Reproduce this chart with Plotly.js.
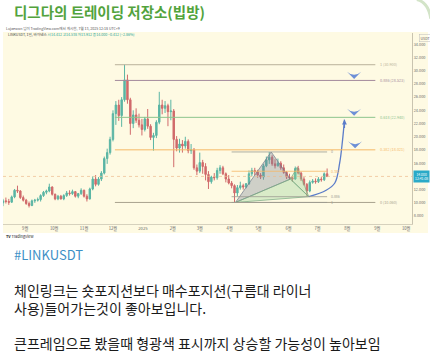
<!DOCTYPE html>
<html><head><meta charset="utf-8">
<script src="https://cdn.plot.ly/plotly-3.0.1.min.js"></script>
<style>html,body{margin:0;padding:0;background:#fff;}#c{width:430px;height:355px;}</style>
</head><body><div id="c"></div>
<script>
// ---- data (3-day candles, LINKUSDT) ----
const dates = ["2024-08-09","2024-08-12","2024-08-15","2024-08-18","2024-08-21","2024-08-24","2024-08-27","2024-08-30","2024-09-02","2024-09-05",
"2024-09-08","2024-09-11","2024-09-14","2024-09-17","2024-09-20","2024-09-23","2024-09-26","2024-09-29","2024-10-02","2024-10-05",
"2024-10-08","2024-10-11","2024-10-14","2024-10-17","2024-10-20","2024-10-23","2024-10-26","2024-10-29","2024-11-01","2024-11-04",
"2024-11-07","2024-11-10","2024-11-13","2024-11-16","2024-11-19","2024-11-22","2024-11-25","2024-11-28","2024-12-01","2024-12-04",
"2024-12-07","2024-12-10","2024-12-13","2024-12-16","2024-12-19","2024-12-22","2024-12-25","2024-12-28","2024-12-31","2025-01-03",
"2025-01-06","2025-01-09","2025-01-12","2025-01-15","2025-01-18","2025-01-21","2025-01-24","2025-01-27","2025-01-30","2025-02-02",
"2025-02-05","2025-02-08","2025-02-11","2025-02-14","2025-02-17","2025-02-20","2025-02-23","2025-02-26","2025-03-01","2025-03-04",
"2025-03-07","2025-03-10","2025-03-13","2025-03-16","2025-03-19","2025-03-22","2025-03-25","2025-03-28","2025-03-31","2025-04-03",
"2025-04-06","2025-04-09","2025-04-12","2025-04-15","2025-04-18","2025-04-21","2025-04-24","2025-04-27","2025-04-30","2025-05-03",
"2025-05-06","2025-05-09","2025-05-12","2025-05-15","2025-05-18","2025-05-21","2025-05-24","2025-05-27","2025-05-30","2025-06-02",
"2025-06-05","2025-06-08","2025-06-11","2025-06-14","2025-06-17","2025-06-20","2025-06-23","2025-06-26","2025-06-29","2025-07-02",
"2025-07-05","2025-07-08","2025-07-11"];
const open = [10.0,10.3,10.2,10.1,10.9,11.9,11.8,10.8,10.4,9.9, 9.6,10.3,10.4,10.5,11.1,11.6,11.8,12.4,11.3,10.6,
11.0,10.6,11.1,11.5,11.4,11.7,11.0,11.4,11.9,11.0, 10.6,12.1,13.6,12.8,13.6,14.5,16.7,17.6,19.6,23.5,
24.8,23.2,25.6,28.6,25.6,22.0,23.3,22.5,21.8,21.1, 22.7,21.6,19.9,20.2,22.2,24.8,24.3,24.7,23.8,23.9,
19.6,18.3,18.9,18.6,19.3,17.9,18.0,15.3,14.8,16.1, 15.5,14.3,13.2,13.9,13.8,14.9,15.3,14.4,13.6,13.0,
12.6,11.5,12.3,12.6,12.4,12.9,14.4,14.9,14.7,14.2, 13.9,15.6,16.5,16.9,15.9,15.6,16.0,15.3,14.6,13.9,
13.8,13.6,15.2,14.5,13.6,12.8,11.8,13.1,13.3,13.2, 13.6,13.5,14.4];
const high = [10.6,10.8,10.6,11.1,12.1,12.6,11.9,11.1,10.6,10.2, 10.5,10.6,10.8,11.3,11.8,12.0,12.9,12.5,11.4,11.2,
11.2,11.3,11.8,11.9,12.0,11.8,11.5,12.2,12.0,11.3, 12.3,14.0,14.2,13.9,14.8,17.0,18.2,20.0,24.0,25.4,
25.6,26.0,30.9,29.4,25.9,24.0,24.3,23.5,22.7,23.0, 24.2,21.9,20.6,22.5,26.8,25.6,25.4,25.0,25.6,24.2,
20.1,19.7,19.5,20.0,19.6,18.9,18.3,15.8,17.6,16.5, 16.0,14.8,14.1,14.5,15.3,15.7,15.6,14.6,14.2,13.3,
12.8,12.7,13.2,12.9,13.0,14.9,15.3,15.3,15.0,14.5, 15.9,17.0,17.7,17.2,16.6,16.7,16.3,15.8,14.8,14.4,
14.0,15.5,15.6,14.7,13.9,13.0,13.4,13.6,13.7,13.9, 13.9,14.6,15.2];
const low = [9.5,9.9,9.7,10.0,10.7,11.5,10.6,10.2,9.7,9.3, 9.5,10.0,10.2,10.2,10.9,11.3,11.6,11.1,10.4,10.4,
10.5,10.4,10.9,11.1,11.2,10.8,10.7,11.2,10.8,10.2, 10.5,11.9,12.5,12.6,13.3,14.3,15.9,17.3,19.3,21.8,
22.4,21.5,25.3,25.0,20.3,21.3,22.1,21.4,20.2,20.8, 21.2,19.5,17.9,19.8,21.9,23.4,23.6,21.6,22.5,15.4,
17.8,17.6,17.6,18.2,17.5,17.4,15.0,14.2,14.5,14.4, 13.4,12.1,12.9,13.4,13.5,14.4,14.2,13.1,12.8,12.2,
10.1,11.0,12.0,12.0,12.2,12.7,14.0,14.2,13.8,13.6, 13.5,15.4,15.9,15.6,15.2,15.5,15.0,14.4,13.6,13.5,
13.2,13.5,14.3,13.3,12.6,11.0,11.6,12.9,12.9,13.0, 13.2,13.3,13.9];
const close = [10.3,10.2,10.1,10.9,11.9,11.8,10.8,10.4,9.9,9.6, 10.3,10.4,10.5,11.1,11.6,11.8,12.4,11.3,10.6,11.0,
10.6,11.1,11.5,11.4,11.7,11.0,11.4,11.9,11.0,10.6, 12.1,13.6,12.8,13.6,14.5,16.7,17.6,19.6,23.5,24.8,
23.2,25.6,28.6,25.6,22.0,23.3,22.5,21.8,21.1,22.7, 21.6,19.9,20.2,22.2,24.8,24.3,24.7,23.8,23.9,19.6,
18.3,18.9,18.6,19.3,17.9,18.0,15.3,14.8,16.1,15.5, 14.3,13.2,13.9,13.8,14.9,15.3,14.4,13.6,13.0,12.6,
11.5,12.3,12.6,12.4,12.9,14.4,14.9,14.7,14.2,13.9, 15.6,16.5,16.9,15.9,15.6,16.0,15.3,14.6,13.9,13.8,
13.6,15.2,14.5,13.6,12.8,11.8,13.1,13.3,13.2,13.6, 13.5,14.4,14.0];

// axis ticks (14.000 is hidden behind the price box in the original)
const priceTicks = [8,10,12,16,18,20,22,24,26,28,30,32,34];
const priceTickText = ["8.000","10.000","12.000","16.000","18.000","20.000","22.000","24.000","26.000","28.000","30.000","32.000","34.000"];
const monthTicks = ["2024-09-01","2024-10-01","2024-11-01","2024-12-01","2025-01-01","2025-02-01","2025-03-01","2025-04-01","2025-05-01","2025-06-01","2025-07-01","2025-08-01","2025-09-01","2025-10-01"];
const monthText = ["9월","10월","11월","12월","2025","2월","3월","4월","5월","6월","7월","8월","9월","10월"];

// big fib retracement (peak -> low)
const fibLevels = ["1","0.886","0.618","0.382","0"];
const fibPrices = [30.900,28.523,22.940,18.021,10.060];
const fibColors = ["#b9b19a","#a48a9c","#8cc48c","#f5b866","#a8a28e"];
const fibStart = "2024-12-03", fibEnd = "2025-08-30", fibLabelX = "2025-09-02";
// small fib (A -> X)
const fib2Levels = ["0","0.382","0.886","1"];
const fib2Prices = [17.70,14.78,10.93,10.06];
const fib2Colors = ["#9c9a90","#f5b866","#9c9a90","#9c9a90"];
const fib2Start = "2025-04-03", fib2End = "2025-07-11", fib2LabelX = "2025-07-13";

// harmonic (bat) pattern points X A B C D
const patDates = ["2025-04-07","2025-05-14","2025-06-03","2025-06-10","2025-06-22"];
const patPrices = [10.06,17.70,13.60,15.40,10.93];

// projected path (blue arrow)
const projDates = ["2025-06-22","2025-07-10","2025-07-19","2025-07-24","2025-07-27","2025-07-29"];
const projPrices = [10.93,11.9,13.0,16.0,19.5,22.6];

// target marks
const markDates = ["2025-08-08","2025-08-08","2025-08-09"];
const markPrices = [28.75,23.17,18.25];

// ---- build ----
const traces = [];
traces.push({type:'scatter',mode:'lines',x:[patDates[0],patDates[1],patDates[2],patDates[0]],y:[patPrices[0],patPrices[1],patPrices[2],patPrices[0]],
  fill:'toself',fillcolor:'rgba(120,128,150,0.35)',line:{color:'rgba(110,120,140,0.7)',width:1},hoverinfo:'skip'});
traces.push({type:'scatter',mode:'lines',x:[patDates[0],patDates[2],patDates[4],patDates[0]],y:[patPrices[0],patPrices[2],patPrices[4],patPrices[0]],
  fill:'toself',fillcolor:'rgba(150,205,150,0.35)',line:{color:'rgba(120,170,130,0.7)',width:1},hoverinfo:'skip'});
traces.push({type:'scatter',mode:'lines',x:[patDates[2],patDates[3],patDates[4],patDates[2]],y:[patPrices[2],patPrices[3],patPrices[4],patPrices[2]],
  fill:'toself',fillcolor:'rgba(150,205,150,0.35)',line:{color:'rgba(120,170,130,0.7)',width:1},hoverinfo:'skip'});
traces.push({type:'candlestick',x:dates,open:open,high:high,low:low,close:close,
  increasing:{line:{color:'#5ab5a4',width:1},fillcolor:'#5ab5a4'},
  decreasing:{line:{color:'#d06a6b',width:1},fillcolor:'#d06a6b'},whiskerwidth:0,hoverinfo:'skip'});
traces.push({type:'scatter',mode:'lines',x:projDates,y:projPrices,line:{color:'#5b7cc9',width:1.3,shape:'spline'},hoverinfo:'skip'});
traces.push({type:'scatter',mode:'markers',x:markDates,y:markPrices,
  marker:{symbol:'arrow-wide',angle:180,size:10,color:'#6d8fd6',line:{width:0}},hoverinfo:'skip'});

const shapes = [];
const ann = [];
// cream background incl. axis area
shapes.push({type:'rect',xref:'paper',yref:'paper',x0:0,x1:1.039,y0:-0.047,y1:1.005,fillcolor:'#fefae3',line:{width:0},layer:'below'});
// decorative rounded corner at top right
shapes.push({type:'path',xref:'paper',yref:'paper',path:'M 1.012,1.175 Q 1.040,1.160 1.046,1.075',line:{color:'#d3e4c8',width:3}});
// current price line
const last = close[close.length-1];
shapes.push({type:'line',xref:'paper',yref:'y',x0:0,x1:1,y0:last,y1:last,line:{color:'rgba(235,185,140,0.7)',width:1,dash:'dot'}});
fibPrices.forEach((p,i)=>{
  shapes.push({type:'line',xref:'x',yref:'y',x0:fibStart,x1:fibEnd,y0:p,y1:p,line:{color:fibColors[i],width:1}});
  ann.push({xref:'x',yref:'y',x:fibLabelX,y:p,text:fibLevels[i]+' ('+p.toFixed(3)+')',showarrow:false,xanchor:'left',yanchor:'middle',font:{size:3.8,color:fibColors[i]}});
});
fib2Prices.forEach((p,i)=>{
  shapes.push({type:'line',xref:'x',yref:'y',x0:fib2Start,x1:fib2End,y0:p,y1:p,line:{color:fib2Colors[i],width:0.8}});
  ann.push({xref:'x',yref:'y',x:fib2LabelX,y:p,text:fib2Levels[i],showarrow:false,xanchor:'left',yanchor:'middle',font:{size:3.5,color:fib2Colors[i]}});
});
// arrow head of projection
ann.push({xref:'x',yref:'y',x:projDates[projDates.length-1],y:projPrices[projPrices.length-1],ax:0,ay:10,showarrow:true,arrowhead:2,arrowsize:0.8,arrowwidth:1.2,arrowcolor:'#5b7cc9',text:''});
// price box
ann.push({xref:'paper',yref:'y',x:1.002,y:last,text:last.toFixed(3)+'<br>12:41:08',showarrow:false,xanchor:'left',yanchor:'middle',
  font:{size:3.4,color:'#ffffff'},bgcolor:'#2aaac8',borderpad:1});
ann.push({xref:'paper',yref:'paper',x:1.016,y:0.975,text:'USDT',showarrow:false,xanchor:'left',yanchor:'middle',font:{size:3.6,color:'#555'},bordercolor:'#bbb',borderwidth:0.5,borderpad:1});
// texts
ann.push({xref:'paper',yref:'paper',x:0.003,y:1.022,text:'Lujaewon 님이 TradingView.com에서 게시함, 7월 13, 2025 12:18 UTC+9',showarrow:false,xanchor:'left',yanchor:'middle',font:{size:3.6,color:'#555'}});
ann.push({xref:'paper',yref:'paper',x:0.008,y:0.99,text:'LINKUSDT, 1일, 바이낸스 <span style="color:#26a69a">시14.412 고14.538 저13.912 종14.000 −0.412 (−2.86%)</span>',showarrow:false,xanchor:'left',yanchor:'middle',font:{size:3.6,color:'#444'}});
ann.push({xref:'paper',yref:'paper',x:0.003,y:-0.068,text:'<b>TV</b> TradingView',showarrow:false,xanchor:'left',yanchor:'middle',font:{size:3.8,color:'#222'}});
ann.push({xref:'paper',yref:'paper',x:0.022,y:1.11,text:'<b>디그다의 트레이딩 저장소(빕방)</b>',showarrow:false,xanchor:'left',yanchor:'middle',font:{size:14.5,color:'#52a33c',family:'Noto Sans CJK KR'}});
ann.push({xref:'paper',yref:'paper',x:0.022,y:-0.162,text:'#LINKUSDT',showarrow:false,xanchor:'left',yanchor:'middle',font:{size:13,color:'#3d8fc6',family:'Noto Sans CJK KR'}});
ann.push({xref:'paper',yref:'paper',x:0.022,y:-0.346,text:'체인링크는 숏포지션보다 매수포지션(구름대 라이너',showarrow:false,xanchor:'left',yanchor:'middle',font:{size:14,color:'#1a1a1a',family:'Noto Sans CJK KR'}});
ann.push({xref:'paper',yref:'paper',x:0.022,y:-0.438,text:'사용)들어가는것이 좋아보입니다.',showarrow:false,xanchor:'left',yanchor:'middle',font:{size:14,color:'#1a1a1a',family:'Noto Sans CJK KR'}});
ann.push({xref:'paper',yref:'paper',x:0.022,y:-0.623,text:'큰프레임으로 봤을때 형광색 표시까지 상승할 가능성이 높아보임',showarrow:false,xanchor:'left',yanchor:'middle',font:{size:14,color:'#1a1a1a',family:'Noto Sans CJK KR'}});

const layout = {
  width:430,height:355,margin:{l:3,r:18,t:33,b:131},
  paper_bgcolor:'#ffffff',plot_bgcolor:'#fefae3',showlegend:false,
  font:{family:'Noto Sans CJK KR, Noto Sans, sans-serif'},
  xaxis:{type:'date',range:['2024-08-09','2025-10-07'],showgrid:false,zeroline:false,rangeslider:{visible:false},
    tickmode:'array',tickvals:monthTicks,ticktext:monthText,tickfont:{size:4.2,color:'#666'},ticks:'',
    showline:true,linecolor:'#d6d1bd',linewidth:1,fixedrange:true},
  yaxis:{side:'right',range:[6.8,35.7],showgrid:false,zeroline:false,tickmode:'array',tickvals:priceTicks,ticktext:priceTickText,
    tickfont:{size:3.8,color:'#666'},ticks:'',showline:true,linecolor:'#c9c4b0',linewidth:1,fixedrange:true},
  shapes:shapes,annotations:ann
};
Plotly.newPlot('c',traces,layout,{staticPlot:true,displayModeBar:false});
</script></body></html>
